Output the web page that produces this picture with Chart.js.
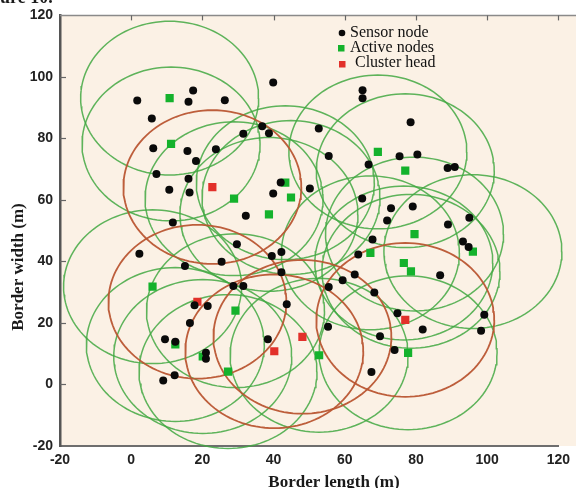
<!DOCTYPE html>
<html><head><meta charset="utf-8">
<script src="https://cdn.jsdelivr.net/npm/chart.js@4/dist/chart.umd.min.js"></script>
<style>
html,body{margin:0;padding:0;background:#fff;overflow:hidden;width:576px;height:488px}
#wrap{position:relative;width:576px;height:498px}
</style>
</head><body><div id="wrap"><canvas id="c" width="576" height="498"></canvas></div>
<script>
// ---- data ----
const xTicks = [-20, 0, 20, 40, 60, 80, 100, 120];
const yTicks = [-20, 0, 20, 40, 60, 80, 100, 120];
const seriesNames = ['Sensor node', 'Active nodes', 'Cluster head'];

const sensorX = [39.9,17.4,1.7,16.1,26.3,5.8,31.5,36.8,38.7,6.2,15.8,23.8,18.2,7.1,16.1,10.7,16.4,42,39.9,50.2,32.2,11.7,
  65,65,78.5,52.7,55.5,66.7,75.4,80.4,88.9,90.9,64.9,73,79.1,71.9,89,95,67.8,93.2,
  2.3,29.7,39.5,42.2,25.4,15.1,42.2,28.7,31.5,17.8,21.5,43.7,16.5,9.5,12.4,21,21,38.4,12.2,9,
  94.8,63.8,86.8,62.8,59.4,55.5,68.3,74.8,81.9,99.2,98.3,55.3,69.9,74,67.5];
const sensorY = [98.2,95.6,92.3,91.9,92.4,86.5,81.5,84,81.7,76.8,75.9,76.5,72.7,68.4,66.9,63.3,62.4,65.7,62.1,63.7,54.9,52.7,
  95.7,93.1,85.3,83.2,74.3,71.5,74.2,74.8,70.4,70.7,60.5,57.3,57.9,53.3,52,54.2,47.1,46.5,
  42.5,45.6,41.8,43.1,39.9,38.5,36.5,32,32,25.8,25.5,26.1,20,14.7,13.9,10.3,8.4,14.7,3,1.3,
  44.7,42.3,35.5,35.8,33.9,31.7,29.9,23.2,17.9,22.7,17.5,18.8,15.7,11.2,4.1];

const activeX = [10.8,11.2,28.9,38.7,43.3,44.9,69.3,77,79.6,67.2,96,76.6,78.6,77.8,52.8,6,29.3,20.1,27.2,12.4];
const activeY = [93.1,78.2,60.4,55.3,65.6,60.8,75.6,69.5,48.9,42.8,43.2,39.5,36.8,10.3,9.5,31.8,24,9.1,4.2,13];

const headX = [22.8,18.6,40.2,48.1,77];
const headY = [64.2,26.9,10.8,15.5,21];

const coverageRadius = 25; // sensing range in metres

// ---- build datasets ----
const toPts = (xs, ys) => xs.map((x, i) => ({x, y: ys[i]}));
function ring(cx, cy, r) {
  const pts = [];
  const n = 120;
  for (let i = 0; i <= n; i++) {
    const a = 2 * Math.PI * i / n;
    pts.push({x: cx + r * Math.cos(a), y: cy + r * Math.sin(a)});
  }
  return pts;
}
const GREEN_RING = 'rgba(66,168,66,0.85)';
const RED_RING = 'rgba(185,85,50,0.95)';

const datasets = [
  {label: seriesNames[0], data: toPts(sensorX, sensorY), pointStyle: 'circle', pointRadius: 4,
   backgroundColor: '#0a0a0a', borderColor: '#0a0a0a', borderWidth: 0, order: 0},
  {label: seriesNames[1], data: toPts(activeX, activeY), pointStyle: 'rect', pointRadius: 5.8,
   backgroundColor: '#14b22c', borderColor: '#14b22c', borderWidth: 0, order: 0},
  {label: seriesNames[2], data: toPts(headX, headY), pointStyle: 'rect', pointRadius: 5.8,
   backgroundColor: '#e2302a', borderColor: '#e2302a', borderWidth: 0, order: 0}
];
activeX.forEach((x, i) => datasets.push({label: 'ring', data: ring(x, activeY[i], coverageRadius),
  showLine: true, pointRadius: 0, borderColor: GREEN_RING, borderWidth: 1.5, fill: false, clip: false, order: 2}));
headX.forEach((x, i) => datasets.push({label: 'ring', data: ring(x, headY[i], coverageRadius),
  showLine: true, pointRadius: 0, borderColor: RED_RING, borderWidth: 1.8, fill: false, clip: false, order: 1}));

const TICK_FONT = {family: "'Liberation Sans', Arial, sans-serif", size: 14, weight: 'bold'};

const decor = {
  id: 'decor',
  beforeDraw(chart) {
    const {ctx, chartArea: a} = chart;
    ctx.save();
    ctx.fillStyle = '#fbf1e5';
    ctx.fillRect(a.left, a.top, chart.width - a.left, a.bottom - a.top);
    ctx.restore();
  },
  afterDraw(chart) {
    const {ctx, chartArea: a, scales} = chart;
    ctx.save();
    // top frame line
    ctx.strokeStyle = '#8a8a8a'; ctx.lineWidth = 1.5;
    ctx.beginPath(); ctx.moveTo(a.left, a.top); ctx.lineTo(chart.width, a.top); ctx.stroke();
    // inward tick marks on top and left
    ctx.strokeStyle = '#666'; ctx.lineWidth = 1.2;
    xTicks.forEach(v => {
      const px = Math.round(scales.x.getPixelForValue(v)) + 0.5;
      if (v === xTicks[0]) return;
      ctx.beginPath(); ctx.moveTo(px, a.top); ctx.lineTo(px, a.top + 5); ctx.stroke();
    });
    yTicks.forEach(v => {
      const py = Math.round(scales.y.getPixelForValue(v)) + 0.5;
      if (v === yTicks[0] || v === yTicks[yTicks.length - 1]) return;
      ctx.beginPath(); ctx.moveTo(a.left, py); ctx.lineTo(a.left + 6, py); ctx.stroke();
    });
    // axis titles
    ctx.fillStyle = '#1a1a1a';
    ctx.font = "bold 17px 'Liberation Serif', 'Times New Roman', serif";
    ctx.textAlign = 'center'; ctx.textBaseline = 'alphabetic';
    ctx.fillText('Border length (m)', 334, 487);
    ctx.save();
    ctx.translate(23, 267); ctx.rotate(-Math.PI / 2);
    ctx.fillText('Border width (m)', 0, 0);
    ctx.restore();
    // caption fragment cut at the top
    ctx.font = "bold 18px 'Liberation Serif', 'Times New Roman', serif";
    ctx.textAlign = 'left';
    ctx.fillText('ure 10.', 0, 3);
    // legend
    ctx.font = "16px 'Liberation Serif', 'Times New Roman', serif";
    ctx.textBaseline = 'middle';
    ctx.fillStyle = '#0a0a0a';
    ctx.beginPath(); ctx.arc(342, 33, 3.3, 0, 2 * Math.PI); ctx.fill();
    ctx.fillStyle = '#111'; ctx.fillText(seriesNames[0], 350, 33);
    ctx.fillStyle = '#14b22c'; ctx.fillRect(338, 45, 6.5, 6.5);
    ctx.fillStyle = '#111'; ctx.fillText(seriesNames[1], 350, 48);
    ctx.fillStyle = '#e2302a'; ctx.fillRect(339, 61, 6.5, 6.5);
    ctx.fillStyle = '#111'; ctx.fillText(seriesNames[2], 355, 63);
    ctx.restore();
  }
};

new Chart(document.getElementById('c'), {
  type: 'scatter',
  data: {datasets},
  options: {
    responsive: false,
    animation: false,
    events: [],
    layout: {padding: {top: 14, right: 6, left: 0, bottom: 0}},
    plugins: {legend: {display: false}, tooltip: {enabled: false}},
    scales: {
      x: {
        type: 'linear', min: -20, max: 120,
        afterFit(s) { s.height = 52; },
        afterBuildTicks(s) { s.ticks = xTicks.map(v => ({value: v})); },
        ticks: {stepSize: 20, font: TICK_FONT, color: '#222', padding: 6},
        grid: {drawOnChartArea: false, drawTicks: false},
        border: {display: true, color: '#6e6e6e', width: 2}
      },
      y: {
        type: 'linear', min: -20, max: 120,
        afterFit(s) { s.width = 60; },
        afterBuildTicks(s) { s.ticks = yTicks.map(v => ({value: v})); },
        ticks: {stepSize: 20, font: TICK_FONT, color: '#222', padding: 7},
        grid: {drawOnChartArea: false, drawTicks: false},
        border: {display: true, color: '#555', width: 2.5}
      }
    }
  },
  plugins: [decor]
});
</script>
</body></html>
